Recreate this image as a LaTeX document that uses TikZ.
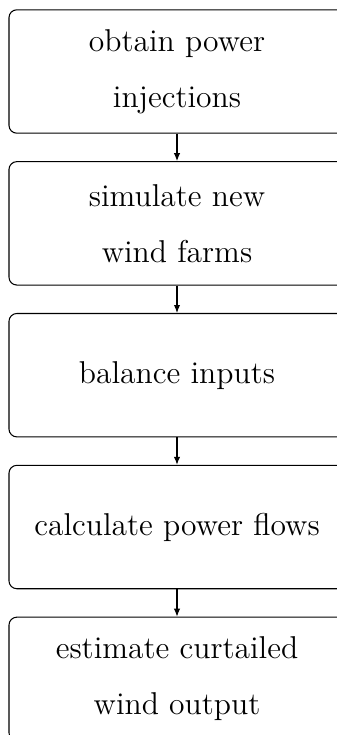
\documentclass[tikz,border=0pt]{standalone}
\usepackage{tikz}
\usetikzlibrary{arrows.meta, positioning}

\begin{document}
\begin{tikzpicture}[
    x=0.38pt, y=-0.38pt,
    stepbox/.style={rectangle, draw=black, thin, minimum width=127.7pt, minimum height=46.9pt, align=center, rounded corners=3pt, font=\large\linespread{1.52}\selectfont},
    arrow/.style={-{Latex[length=3pt, width=2.4pt]}, thin},
    node distance=10.4pt
]
\useasboundingbox (0,0) rectangle (337,735);

% Process steps
\node[stepbox] (obtain) at (177,71.5) {obtain power\\injections};
\node[stepbox, below=of obtain] (simulate) {simulate new\\wind farms};
\node[stepbox, below=of simulate] (balance) {balance inputs};
\node[stepbox, below=of balance] (flows) {calculate power flows};
\node[stepbox, below=of flows] (curtail) {estimate curtailed\\wind output};

% Connections
\draw[arrow] (obtain) -- (simulate);
\draw[arrow] (simulate) -- (balance);
\draw[arrow] (balance) -- (flows);
\draw[arrow] (flows) -- (curtail);

\end{tikzpicture}
\end{document}
